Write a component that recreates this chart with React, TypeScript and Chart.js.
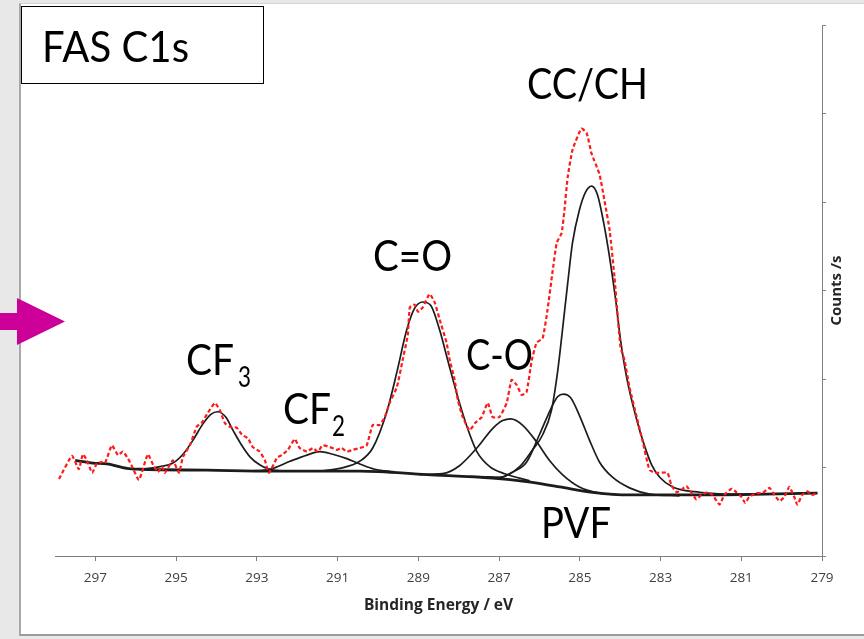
import React, { useEffect, useRef } from 'react';
import { Chart, registerables } from 'chart.js';

Chart.register(...registerables);

// ---------- Data ----------
const xTickValues = [297, 295, 293, 291, 289, 287, 285, 283, 281, 279];

// Raw spectrum (red dashed)
const rawEnergy = [
  297.90, 297.58, 297.41, 297.31, 297.21, 297.08, 296.96, 296.84, 296.76, 296.59,
  296.44, 296.32, 296.19, 296.09, 295.92, 295.70, 295.57, 295.45, 295.35, 295.28,
  295.08, 294.93, 294.83, 294.66, 294.49, 294.36, 294.21, 294.04, 293.92, 293.79,
  293.67, 293.50, 293.37, 293.22, 293.10, 292.93, 292.80, 292.70, 292.50, 292.38,
  292.23, 292.06, 291.94, 291.76, 291.61, 291.49, 291.37, 291.19, 291.02, 290.90,
  290.77, 290.62, 290.45, 290.28, 290.13, 289.96, 289.83, 289.71, 289.53, 289.39,
  289.26, 289.21, 289.09, 289.01, 288.89, 288.72, 288.59, 288.47, 288.30, 288.22,
  288.10, 288.02, 287.90, 287.73, 287.60, 287.43, 287.28, 287.16, 286.99, 286.81,
  286.69, 286.56, 286.44, 286.32, 286.19, 286.07, 285.92, 285.80, 285.67, 285.57,
  285.45, 285.38, 285.30, 285.18, 284.96, 284.83, 284.71, 284.51, 284.39, 284.26,
  284.14, 284.06, 283.99, 283.89, 283.77, 283.59, 283.45, 283.27, 283.10, 282.83,
  282.73, 282.60, 282.48, 282.36, 282.23, 282.11, 281.99, 281.84, 281.71, 281.54,
  281.42, 281.24, 281.12, 281.00, 280.90, 280.80, 280.62, 280.48, 280.30, 280.18,
  280.05, 279.93, 279.81, 279.68, 279.61, 279.49, 279.36, 279.24, 279.11,
];
const rawCounts = [
  870, 1130, 980, 1150, 1080, 940, 1050, 1060, 1050, 1250,
  1140, 1180, 1100, 1010, 860, 1150, 1030, 950, 1010, 940,
  1080, 940, 1120, 1250, 1460, 1510, 1620, 1730, 1650, 1500,
  1460, 1450, 1370, 1330, 1230, 1180, 1080, 940, 1110, 1140,
  1200, 1320, 1220, 1180, 1220, 1180, 1250, 1230, 1200, 1220,
  1180, 1200, 1220, 1250, 1480, 1480, 1570, 1730, 1910, 2210,
  2500, 2810, 2840, 2760, 2810, 2960, 2860, 2670, 2410, 2210,
  1990, 1760, 1570, 1420, 1500, 1570, 1730, 1570, 1570, 1730,
  1990, 1930, 1820, 1850, 2210, 2410, 2460, 2780, 3230, 3540,
  3650, 3910, 4280, 4590, 4830, 4780, 4550, 4310, 4020, 3680,
  3150, 2700, 2360, 2210, 1910, 1570, 1310, 970, 940, 940,
  800, 720, 750, 790, 710, 640, 690, 720, 690, 580,
  690, 760, 720, 670, 600, 670, 710, 710, 770, 690,
  620, 670, 780, 660, 580, 690, 730, 690, 720,
];

// Background
const bgEnergy = [297.50, 297.06, 296.71, 296.22, 295.90, 294.24, 292.60, 290.45, 288.79, 287.16, 286.32, 285.50, 284.68, 283.77, 282.03, 279.11];
const bgCounts = [1080, 1050, 1040, 990, 980, 970, 960, 960, 920, 880, 840, 780, 720, 690, 690, 710];

// Fitted components
const cf3Energy = [295.90, 295.40, 295.08, 294.83, 294.58, 294.34, 294.14, 293.97, 293.77, 293.59, 293.40, 293.17, 292.93, 292.60, 292.18];
const cf3Counts = [980, 1010, 1050, 1150, 1310, 1490, 1600, 1630, 1570, 1420, 1270, 1120, 1030, 970, 960];

const cf2Energy = [293.17, 292.68, 292.18, 291.76, 291.44, 291.12, 290.77, 290.45, 290.08, 289.58];
const cf2Counts = [960, 980, 1070, 1140, 1180, 1150, 1100, 1040, 980, 950];

const coDoubleEnergy = [291.44, 290.95, 290.45, 290.13, 289.78, 289.53, 289.29, 289.09, 288.89, 288.69, 288.47, 288.27, 288.05, 287.80, 287.55, 287.23, 286.86, 286.24];
const coDoubleCounts = [960, 990, 1070, 1220, 1630, 2080, 2550, 2800, 2870, 2830, 2550, 2210, 1840, 1470, 1180, 1010, 930, 850];

const coSingleEnergy = [288.97, 288.40, 287.98, 287.55, 287.16, 286.91, 286.71, 286.42, 286.07, 285.75, 285.43, 285.01, 284.51, 284.01];
const coSingleCounts = [920, 930, 1020, 1220, 1440, 1530, 1550, 1480, 1290, 1080, 920, 780, 710, 690];

const pvfEnergy = [287.48, 286.99, 286.66, 286.32, 286.00, 285.70, 285.55, 285.40, 285.23, 285.01, 284.76, 284.51, 284.19, 283.77, 283.27, 282.53];
const pvfCounts = [895, 885, 950, 1060, 1370, 1680, 1800, 1830, 1790, 1590, 1310, 1060, 890, 770, 700, 680];

const ccEnergy = [287.73, 286.99, 286.49, 286.17, 285.92, 285.70, 285.55, 285.43, 285.30, 285.18, 285.01, 284.86, 284.71, 284.56, 284.41, 284.26, 284.11, 283.99, 283.84, 283.59, 283.40, 283.22, 283.02, 282.70, 282.03, 281.22, 280.05];
const ccCounts = [900, 890, 1010, 1200, 1370, 1650, 2080, 2550, 3080, 3540, 3910, 4110, 4180, 4080, 3770, 3370, 2890, 2440, 2020, 1540, 1250, 1030, 890, 780, 720, 700, 700];

// ---------- Helpers ----------
const toPts = (xs: number[], ys: number[]) => xs.map((x, i) => ({ x, y: ys[i] }));

const LABEL_FONT = 'Lato';
const AXIS_FONT = "'Open Sans'";

function drawFitted(ctx: CanvasRenderingContext2D, text: string, x: number, baseline: number, size: number, width: number) {
  ctx.font = `${size}px ${LABEL_FONT}`;
  const w = ctx.measureText(text).width;
  ctx.save();
  ctx.translate(x, baseline);
  ctx.scale(width / w, 1);
  ctx.fillText(text, 0, 0);
  ctx.restore();
}

const labelPlugin = {
  id: 'peakLabels',
  afterDraw(chart: any) {
    const ctx: CanvasRenderingContext2D = chart.ctx;
    ctx.save();
    ctx.fillStyle = '#000000';
    ctx.textAlign = 'left';
    ctx.textBaseline = 'alphabetic';
    // Title inside box
    drawFitted(ctx, 'FAS C1s', 42, 62, 43, 147);
    // Peak labels
    drawFitted(ctx, 'CC/CH', 527, 99, 43, 121);
    drawFitted(ctx, 'C=O', 373, 271, 43, 79);
    drawFitted(ctx, 'C-O', 466, 370, 43, 67);
    drawFitted(ctx, 'CF', 186, 375, 43, 48);
    drawFitted(ctx, '3', 238, 387, 28, 13);
    drawFitted(ctx, 'CF', 283, 424, 43, 48);
    drawFitted(ctx, '2', 332, 436, 28, 13);
    drawFitted(ctx, 'PVF', 541, 538, 43, 70);
    // Right axis title (reads bottom to top)
    ctx.fillStyle = '#262626';
    ctx.translate(841, 290.5);
    ctx.rotate(-Math.PI / 2);
    ctx.textAlign = 'center';
    ctx.font = `bold 15px ${AXIS_FONT}`;
    ctx.fillText('Counts /s', 0, 0);
    ctx.restore();
  },
};

export default function App() {
  const ref = useRef<HTMLCanvasElement>(null);

  useEffect(() => {
    const canvas = ref.current;
    if (!canvas) return;
    const black = (label: string, xs: number[], ys: number[], width = 1.7) => ({
      label,
      data: toPts(xs, ys),
      borderColor: '#1c1c1c',
      borderWidth: width,
      pointRadius: 0,
      fill: false,
      cubicInterpolationMode: 'monotone' as const,
    });
    const chart = new Chart(canvas, {
      type: 'line',
      data: {
        datasets: [
          {
            label: 'Raw data',
            data: toPts(rawEnergy, rawCounts),
            borderColor: '#ff1a1a',
            borderWidth: 2.2,
            borderDash: [4, 2.5],
            pointRadius: 0,
            fill: false,
            tension: 0.15,
          },
          black('CC/CH', ccEnergy, ccCounts),
          black('PVF', pvfEnergy, pvfCounts),
          black('C-O', coSingleEnergy, coSingleCounts),
          black('C=O', coDoubleEnergy, coDoubleCounts),
          black('CF2', cf2Energy, cf2Counts),
          black('CF3', cf3Energy, cf3Counts),
          black('Background', bgEnergy, bgCounts, 2.8),
        ] as any,
      },
      options: {
        responsive: false,
        maintainAspectRatio: false,
        animation: false,
        events: [],
        layout: { padding: { left: 55, top: 25, right: 0, bottom: 0 } },
        plugins: {
          legend: { display: false },
          tooltip: { enabled: false },
        },
        scales: {
          x: {
            type: 'linear',
            position: 'bottom',
            reverse: true,
            min: 279,
            max: 298,
            afterBuildTicks: (scale: any) => {
              scale.ticks = xTickValues.map((v) => ({ value: v }));
            },
            afterFit: (scale: any) => {
              scale.height = 83;
            },
            grid: {
              drawOnChartArea: false,
              drawTicks: true,
              tickLength: 5,
              color: '#7f7f7f',
            },
            border: { display: true, color: '#7f7f7f', width: 1 },
            ticks: {
              autoSkip: false,
              maxRotation: 0,
              padding: 9,
              color: '#404040',
              font: { family: AXIS_FONT, size: 13.5 },
            },
            title: {
              display: true,
              text: 'Binding Energy / eV',
              color: '#262626',
              font: { family: AXIS_FONT, size: 15.5, weight: 'bold' },
              padding: { top: 0, bottom: 24 },
            },
          },
          y: {
            type: 'linear',
            position: 'right',
            min: 0,
            max: 6000,
            afterFit: (scale: any) => {
              scale.width = 42;
            },
            ticks: { display: false, stepSize: 1000 },
            grid: {
              drawOnChartArea: false,
              drawTicks: true,
              tickLength: 4,
              color: '#7f7f7f',
            },
            border: { display: true, color: '#7f7f7f', width: 1 },
            title: { display: false },
          },
        },
      } as any,
      plugins: [labelPlugin],
    });
    return () => chart.destroy();
  }, []);

  return (
    <div style={{ position: 'fixed', left: 0, top: 0, width: 864, height: 639, background: '#e8e8e8', overflow: 'hidden' }}>
      <div
        style={{
          position: 'absolute',
          left: 19,
          top: 3,
          width: 845,
          height: 633,
          background: '#ffffff',
          borderLeft: '2px solid #a8a8a8',
          borderTop: '1px solid #d4d4d4',
          borderBottom: '2px solid #9c9c9c',
          boxSizing: 'border-box',
        }}
      />
      <div
        style={{
          position: 'absolute',
          left: 21,
          top: 6,
          width: 243,
          height: 78,
          border: '1px solid #000',
          background: '#fff',
          boxSizing: 'border-box',
        }}
      />
      <div
        style={{
          position: 'absolute',
          left: 0,
          top: 298,
          width: 65,
          height: 47,
          background: '#cc0099',
          clipPath: 'polygon(0px 15px, 17px 15px, 17px 0px, 65px 23.5px, 17px 47px, 17px 32px, 0px 32px)',
        }}
      />
      <canvas ref={ref} width={864} height={639} style={{ position: 'absolute', left: 0, top: 0, width: 864, height: 639 }} />
    </div>
  );
}
